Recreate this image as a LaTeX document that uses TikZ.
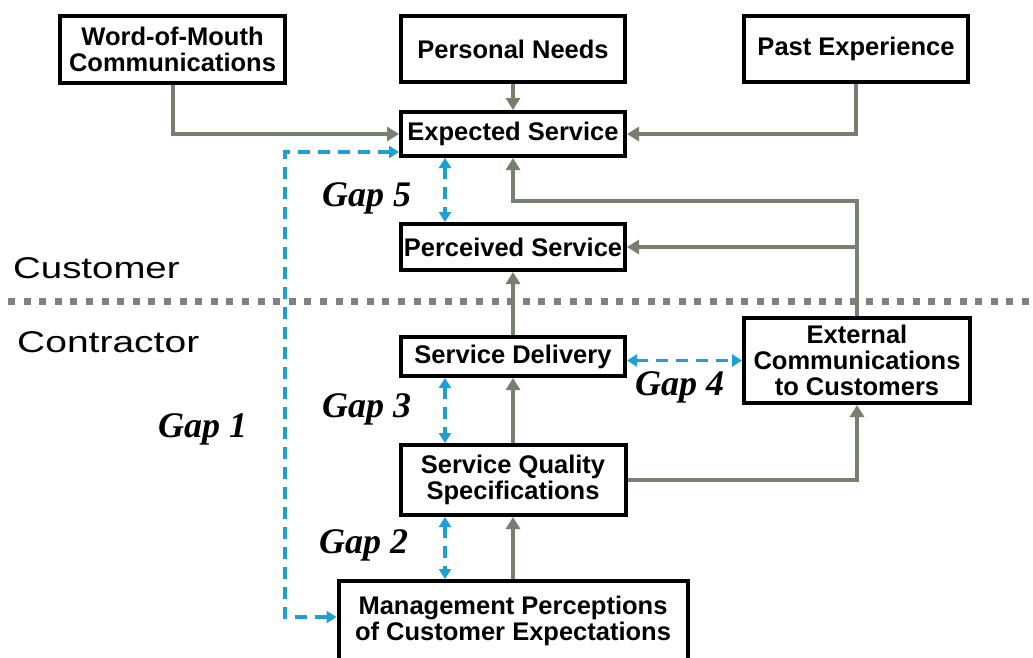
\documentclass[tikz,border=0pt]{standalone}
\usepackage{fontspec}
\setmainfont{Liberation Sans}
\newfontfamily\gapfont{Liberation Serif}
\usetikzlibrary{arrows.meta}
\definecolor{arrgray}{RGB}{118,128,110}
\definecolor{gapblue}{RGB}{30,160,215}
\definecolor{dotgray}{RGB}{128,128,128}
\begin{document}
\begin{tikzpicture}[x=1pt,y=-1pt,
 box/.style={draw=black, line width=4pt, outer sep=2pt, fill=white, align=center, inner sep=0pt, font=\fontsize{25.5}{26}\selectfont\bfseries},
 flow/.style={draw=arrgray, line width=4pt, -{Triangle[length=12pt,width=14pt]}},
 gapline/.style={draw=gapblue, line width=3.5pt, dash pattern=on 12pt off 8pt, {Triangle[length=10pt,width=12pt]}-{Triangle[length=10pt,width=12pt]}},
 gaplabel/.style={anchor=base west, inner sep=0pt, font=\fontsize{36}{36}\selectfont\gapfont\bfseries\itshape},
 side/.style={anchor=base west, inner sep=0pt, font=\fontsize{30}{30}\selectfont}]
\useasboundingbox (0,0) rectangle (1033,657);

% divider
\draw[dotgray, line width=7pt, dash pattern=on 7pt off 8.6pt] (8,301) -- (1033,301);

% boxes
\node[box, minimum width=225pt, minimum height=67pt] (wom) at (172.5,49.5) {Word-of-Mouth\\Communications};
\node[box, minimum width=224pt, minimum height=66pt] (pn) at (513,49) {Personal Needs};
\node[box, minimum width=224pt, minimum height=66pt] (pe) at (856,49) {Past Experience};
\node[box, minimum width=224pt, minimum height=44pt] (exp) at (513,134) {Expected Service};
\node[box, minimum width=224pt, minimum height=46pt] (per) at (513,247) {Perceived Service};
\node[box, minimum width=224pt, minimum height=39pt] (del) at (513,356.5) {Service Delivery};
\node[box, minimum width=226pt, minimum height=85pt] (ext) at (857,360.5) {External\\Communications\\to Customers};
\node[box, minimum width=225pt, minimum height=70pt] (sqs) at (513,480) {Service Quality\\Specifications};
\node[box, minimum width=349pt, minimum height=79pt] (mgmt) at (513,620.5) {Management Perceptions\\of Customer Expectations};

% flows
\draw[flow] (pn) -- (exp);
\draw[flow] (wom.south) |- (exp.west);
\draw[flow] (pe.south) |- (exp.east);
\draw[flow] (ext.north) |- (per.east);
\draw[flow] (ext.north) -- (ext.north |- 0,201) -| (exp.south);
\draw[flow] (del) -- (per);
\draw[flow] (sqs) -- (del);
\draw[flow] (sqs.east) -| (ext.south);
\draw[flow] (mgmt) -- (sqs);

% gaps
\draw[gapline] ([yshift=-18pt]exp.west) -- (285,152) -- (285,617) -- ([yshift=3.5pt]mgmt.west);
\draw[gapline] (exp.south -| 445,0) -- (per.north -| 445,0);
\draw[gapline] (del.south -| 445,0) -- (sqs.north -| 445,0);
\draw[gapline] (sqs.south -| 445,0) -- (mgmt.north -| 445,0);
\draw[gapline] ([yshift=-4pt]del.east) -- ([yshift=-4pt]del.east -| ext.west);

% labels
\node[gaplabel] (g5) at (322,206) {Gap 5};
\node[gaplabel] (g3) at (322,417) {Gap 3};
\node[gaplabel] (g1) at (158,437) {Gap 1};
\node[gaplabel] (g4) at (635,395) {Gap 4};
\node[gaplabel] (g2) at (319,553) {Gap 2};
\node[side] (cust) at (13,278) {\scalebox{1.28}[1]{Customer}};
\node[side] (cont) at (17,352) {\scalebox{1.3}[1]{Contractor}};
\end{tikzpicture}
\end{document}
